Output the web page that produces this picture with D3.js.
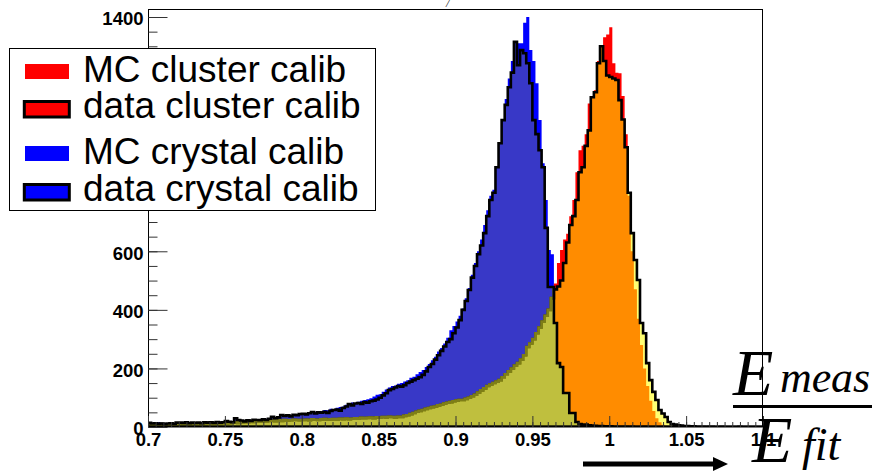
<!DOCTYPE html>
<html>
<head>
<meta charset="UTF-8">
<style>
  body { margin: 0; background: #fff; }
  svg { display: block; }
  .tick text { font-family: "Liberation Sans", Arial, sans-serif; font-weight: bold; font-size: 18.5px; fill: #000; }
  .legend text { font-family: "Liberation Sans", Arial, sans-serif; font-size: 37px; fill: #000; }
  .xtitle text { font-family: "Liberation Serif", "Times New Roman", serif; font-style: italic; fill: #000; }
</style>
</head>
<body>
<svg></svg>
<script src="https://d3js.org/d3.v7.min.js"></script>
<script>

// histogram binning: 200 bins from 0.7 to 1.1
const binLow = 0.7, binWidth = 0.002, nBins = 200;

// MC crystal calib (solid blue)
const mcCrystal = [
  10,14,12,16,11,13,12,10,14,12,
  13,17,12,15,14,16,13,15,14,17,
  15,17,14,18,16,19,17,20,22,21,
  20,23,21,24,22,25,27,24,28,26,
  30,32,35,37,36,39,41,40,43,45,
  44,47,50,48,52,55,54,58,57,62,
  60,66,68,70,76,80,84,82,86,90,
  92,95,98,104,110,112,120,128,135,140,
  142,148,150,155,160,168,172,180,188,195,
  205,215,228,240,258,270,285,305,330,345,
  360,380,405,440,475,520,560,600,640,690,
  740,790,810,880,960,1040,1120,1190,1250,1290,
  1310,1310,1380,1400,1287,1250,1174,1048,901,775,
  604,590,433,330,240,170,110,70,45,28,
  18,12,8,5,4,3,2,2,1,1,
  1,0,1,0,0,0,0,0,0,0,
  0,0,0,0,0,0,0,0,0,0,
  0,0,0,0,0,0,0,0,0,0,
  0,0,0,0,0,0,0,0,0,0,
  0,0,0,0,0,0,0,0,0,0
];

// data crystal calib (black outline)
const dataCrystal = [
  14,12,13,11,12,10,12,13,11,15,
  15,14,16,13,15,14,15,13,16,15,
  16,14,17,15,16,20,18,16,30,24,
  22,19,23,21,25,24,23,26,24,28,
  35,30,33,41,38,40,36,42,40,44,
  45,43,47,51,46,50,49,52,48,55,
  58,60,56,65,70,78,74,80,82,79,
  85,83,88,90,94,100,108,115,126,130,
  135,140,138,143,150,155,160,165,170,178,
  190,205,215,230,245,260,275,290,300,320,
  340,365,400,430,468,510,550,590,620,662,
  720,775,800,887,969,1048,1100,1160,1210,1315,
  1235,1287,1276,1242,1174,1048,1000,945,887,680,
  478,478,355,218,205,116,116,48,48,17,
  10,8,8,6,5,4,3,3,2,2,
  2,1,1,1,1,1,0,1,0,0,
  0,1,0,0,0,0,0,0,0,0,
  0,0,0,0,0,0,0,0,0,0,
  0,0,0,0,0,0,0,0,0,0,
  0,0,0,0,0,0,0,0,0,0
];

// MC cluster calib (solid red)
const mcCluster = [
  0,0,0,0,0,0,0,0,0,0,
  0,0,0,0,0,0,0,0,0,0,
  0,0,0,0,0,0,0,0,0,0,
  0,0,0,0,0,0,0,0,0,0,
  0,0,0,0,0,0,0,0,0,0,
  0,0,0,0,0,0,0,0,0,0,
  0,0,0,0,0,0,0,0,0,0,
  0,0,0,0,0,0,0,0,0,0,
  0,0,0,0,0,0,0,0,0,0,
  0,0,0,0,0,0,0,0,0,0,
  2,2,3,3,4,4,5,6,7,8,
  9,10,11,12,14,15,17,19,21,24,
  27,30,34,38,44,52,62,80,110,170,
  260,420,490,560,604,640,660,720,775,870,
  945,960,1000,1105,1130,1150,1250,1300,1331,1340,
  1365,1242,1210,1208,1130,1000,790,600,470,370,
  280,200,140,90,55,30,16,8,4,2,
  1,1,0,0,0,0,0,0,0,0,
  0,0,0,0,0,0,0,0,0,0,
  0,0,0,0,0,0,0,0,0,0
];

// data cluster calib (black outline, with the long low tail)
const dataCluster = [
  8,10,9,7,11,9,8,10,9,8,
  10,9,11,10,8,12,10,11,9,12,
  11,13,12,10,14,12,13,15,16,14,
  15,17,16,18,17,19,18,20,19,21,
  22,20,23,21,24,22,23,25,24,23,
  24,25,23,26,25,24,26,27,25,26,
  27,26,28,27,29,27,28,30,29,31,
  30,31,32,30,33,32,34,33,35,34,
  33,35,34,38,40,44,48,52,55,58,
  62,65,68,70,74,76,80,83,85,88,
  90,92,92,96,100,105,110,118,125,132,
  140,145,150,155,160,170,180,190,200,210,
  218,230,245,273,285,300,320,340,360,380,
  400,440,470,480,500,560,630,690,720,775,
  870,887,960,1013,1126,1143,1242,1300,1250,1200,
  1195,1190,1185,1116,1050,955,800,662,570,502,
  355,320,218,160,120,92,58,46,34,17,
  10,8,6,5,3,3,2,2,1,1,
  1,0,1,1,0,0,1,0,0,0,
  0,0,1,0,0,0,0,0,0,0
];

const xTickValues = [0.7, 0.75, 0.8, 0.85, 0.9, 0.95, 1.0, 1.05, 1.1];
const xTickLabels = ["0.7", "0.75", "0.8", "0.85", "0.9", "0.95", "1", "1.05", "1.1"];
const yTickValues = [0, 200, 400, 600, 800, 1000, 1200, 1400];
// 800-1200 sit behind the legend box
const yTickLabels = ["0", "200", "400", "600", "", "", "", "1400"];

const legendLabels = ["MC cluster calib", "data cluster calib", "MC crystal calib", "data crystal calib"];

let width = 872, height = 471;

let svg = d3.select("svg")
    .attr("width", width)
    .attr("height", height)
    .attr("viewBox", "0 0 " + width + " " + height);

const x = d3.scaleLinear().domain([0.7, 1.1]).range([148, 763]);
const y = d3.scaleLinear().domain([0, 1400]).range([427, 17]);

const defs = svg.append("defs");

defs.append("clipPath").attr("id", "frameClip")
    .append("rect").attr("x", 148).attr("y", 9).attr("width", 615).attr("height", 418);

// step histogram shape
function stepPoints(counts) {
    let pts = counts.map((c, i) => [binLow + i * binWidth, c]);
    pts.push([binLow + nBins * binWidth, counts[counts.length - 1]]);
    return pts;
}

const histArea = d3.area()
    .curve(d3.curveStepAfter)
    .x(d => x(d[0]))
    .y0(y(0))
    .y1(d => y(d[1]));

defs.append("clipPath").attr("id", "inCrystal")
    .append("path").attr("d", histArea(stepPoints(dataCrystal)));

let plot = svg.append("g").attr("clip-path", "url(#frameClip)");

// MC histograms, solid
plot.append("path").attr("d", histArea(stepPoints(mcCrystal))).attr("fill", "#0000ff");
plot.append("path").attr("d", histArea(stepPoints(mcCluster))).attr("fill", "#ff0000");

// data crystal base colour
plot.append("path").attr("d", histArea(stepPoints(dataCrystal))).attr("fill", "#0000ff");

// data cluster: half-transparent yellow (orange over red, grey over blue)
plot.append("path").attr("d", histArea(stepPoints(dataCluster)))
    .attr("fill", "#ffff00").attr("fill-opacity", 0.55)
    .attr("stroke", "#000").attr("stroke-width", 2.6);

// the low tail inside the crystal peak reads more yellow
let tail = plot.append("g").attr("clip-path", "url(#inCrystal)");
tail.append("path").attr("d", histArea(stepPoints(dataCluster)))
    .attr("fill", "#ffff00").attr("fill-opacity", 0.3);
tail.append("path").attr("d", histArea(stepPoints(dataCluster)))
    .attr("fill", "none")
    .attr("stroke", "#5a5a1e").attr("stroke-width", 2.6);

// data crystal on top
plot.append("path").attr("d", histArea(stepPoints(dataCrystal)))
    .attr("fill", "#ffff00").attr("fill-opacity", 0.22)
    .attr("stroke", "#000").attr("stroke-width", 2.6);

// frame
svg.append("rect")
    .attr("x", 148.5).attr("y", 9.5).attr("width", 614).attr("height", 417)
    .attr("fill", "none").attr("stroke", "#000").attr("stroke-width", 1);
svg.append("line")
    .attr("x1", 148).attr("x2", 763).attr("y1", 426.5).attr("y2", 426.5)
    .attr("stroke", "#000").attr("stroke-width", 2);

// y axis
let yMinor = svg.append("g").attr("transform", "translate(148.5,0)")
    .call(d3.axisLeft(y).tickValues(d3.range(0, 1401, 50)).tickSize(-9).tickFormat(""));
yMinor.select(".domain").remove();

let yAxis = svg.append("g").attr("transform", "translate(148.5,0)")
    .call(d3.axisLeft(y).tickValues(yTickValues).tickSizeInner(-19).tickSizeOuter(0)
        .tickPadding(5).tickFormat((d, i) => yTickLabels[i]));
yAxis.select(".domain").remove();
yAxis.selectAll("text").attr("dy", "0.42em");

// x axis
let xMinor = svg.append("g").attr("transform", "translate(0,427)")
    .call(d3.axisBottom(x).tickValues(d3.range(0.7, 1.1001, 0.005)).tickSize(-5).tickFormat(""));
xMinor.select(".domain").remove();

let xAxis = svg.append("g").attr("transform", "translate(0,427)")
    .call(d3.axisBottom(x).tickValues(xTickValues).tickSizeInner(-11).tickSizeOuter(0)
        .tickPadding(6).tickFormat((d, i) => xTickLabels[i]));
xAxis.select(".domain").remove();

svg.selectAll(".tick line").attr("stroke", "#333");
svg.selectAll(".tick text").filter(function () { return this.textContent === ""; }).remove();

// clipped title remnant
svg.append("text")
    .attr("x", 446).attr("y", 7)
    .attr("font-family", "Liberation Serif, serif").attr("font-style", "italic")
    .attr("font-size", 11).text("/");

// legend
let legend = svg.append("g").attr("class", "legend");
legend.append("rect")
    .attr("x", 9.5).attr("y", 48.5).attr("width", 366).attr("height", 162)
    .attr("fill", "#fff").attr("stroke", "#000").attr("stroke-width", 1);

const legendFill = ["#ff0000", "#ff0000", "#0000ff", "#0000ff"];
const legendBorder = [false, true, false, true];
const legendBase = [82, 118, 164, 201];

legendLabels.forEach((lab, i) => {
    if (legendBorder[i]) {
        legend.append("rect")
            .attr("x", 24.3).attr("y", legendBase[i] - 16.5).attr("width", 45).attr("height", 15.5)
            .attr("fill", legendFill[i]).attr("stroke", "#000").attr("stroke-width", 3);
    } else {
        legend.append("rect")
            .attr("x", 25).attr("y", legendBase[i] - 18).attr("width", 44).attr("height", 15)
            .attr("fill", legendFill[i]);
    }
    legend.append("text")
        .attr("x", 83).attr("y", legendBase[i])
        .text(lab);
});

// x title: E_meas / E_fit with arrow
let xt = svg.append("g").attr("class", "xtitle");
xt.append("text").attr("x", 733).attr("y", 395).attr("font-size", 66).text("E");
xt.append("text").attr("x", 780).attr("y", 392).attr("font-size", 44)
    .attr("textLength", 90).text("meas");
xt.append("line").attr("x1", 733).attr("x2", 872).attr("y1", 406.5).attr("y2", 406.5)
    .attr("stroke", "#000").attr("stroke-width", 3);
xt.append("text").attr("x", 752).attr("y", 462).attr("font-size", 66).text("E");
xt.append("text").attr("x", 802).attr("y", 460).attr("font-size", 46).text("fit");

svg.append("line").attr("x1", 583).attr("x2", 715).attr("y1", 464).attr("y2", 464)
    .attr("stroke", "#000").attr("stroke-width", 5);
svg.append("path").attr("d", "M713,457 L728,464 L713,471 Z").attr("fill", "#000");

</script>
</body>
</html>
